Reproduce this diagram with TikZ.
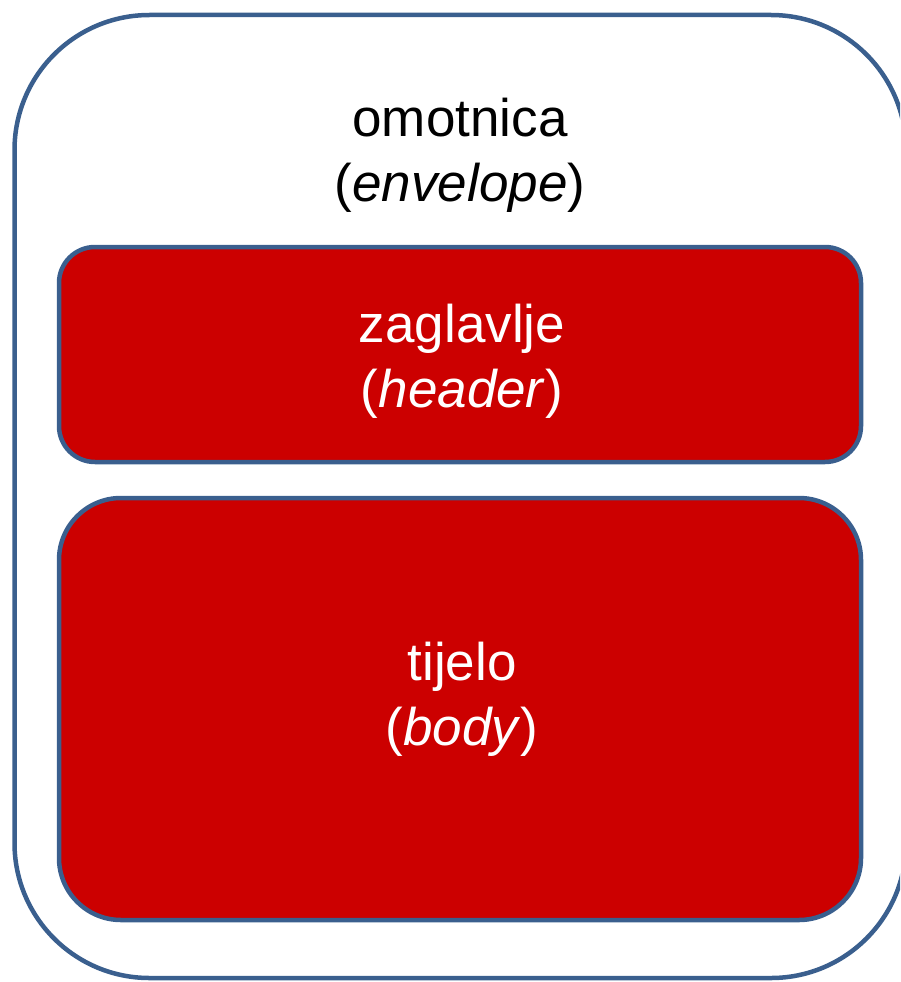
\documentclass[tikz,border=0pt]{standalone}
\usepackage{fontspec}
\setmainfont{Liberation Sans}
\definecolor{edgeblue}{HTML}{3A5F8E}
\definecolor{boxred}{HTML}{CC0000}
\begin{document}
\begin{tikzpicture}[x=1pt,y=-1pt,
  boxstyle/.style={draw=edgeblue,line width=4.5pt,fill=boxred},
  lbl/.style={align=center,font=\fontsize{53}{65}\selectfont,inner sep=0pt}]
\useasboundingbox (0,0) rectangle (900,982);
\clip (0,0) rectangle (900,982);
\draw[draw=edgeblue,line width=4.5pt,rounded corners=135pt] (14.5,15) rectangle (906,978);
\node[lbl] (env) at (460,155) {omotnica\\(\textit{envelope})};
\draw[boxstyle,rounded corners=36pt] (59,247) rectangle (861,462);
\node[lbl,text=white] (hdr) at (462,361) {zaglavlje\\(\textit{header})};
\draw[boxstyle,rounded corners=62pt] (59,498) rectangle (861,920);
\node[lbl,text=white] (bdy) at (462,699) {tijelo\\(\textit{body})};
\end{tikzpicture}
\end{document}
